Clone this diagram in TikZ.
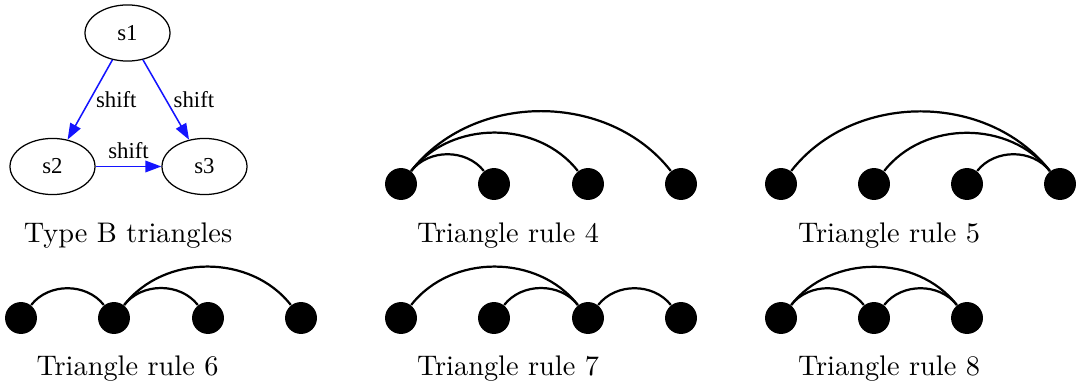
\documentclass[tikz,border=0pt]{standalone}
\usepackage{fontspec}
\newfontfamily\gvfont{Liberation Serif}
\usetikzlibrary{shapes.geometric,arrows.meta}
\definecolor{gvblue}{RGB}{20,20,255}
\begin{document}
\begin{tikzpicture}[x=0.36pt,y=-0.36pt,
  state/.style={ellipse,draw,line width=0.45pt,minimum width=30.6pt,minimum height=20.2pt,
    inner sep=0pt,font=\gvfont\fontsize{8.2}{9.8}\selectfont},
  shiftedge/.style={draw=gvblue,line width=0.55pt,
    -{Triangle[length=5.8pt,width=4.2pt,fill=gvblue]}},
  elabel/.style={font=\gvfont\fontsize{8.2}{9.8}\selectfont,inner sep=1.5pt},
  dot/.style={circle,fill=black,minimum size=11.5pt,inner sep=0pt},
  link/.style={line width=0.8pt,bend left=52},
  caption/.style={anchor=base,font=\fontsize{10.2}{12}\selectfont,inner sep=0pt}
]
\useasboundingbox (0,0) rectangle (1076,385);

% shift graph
\node[state] (s1) at (127.5,33) {s1};
\node[state] (s2) at (52.5,166.5) {s2};
\node[state] (s3) at (204.5,166.5) {s3};
\draw[shiftedge] (s1) -- node[elabel,anchor=west,xshift=0.4pt] {shift} (s2);
\draw[shiftedge] (s1) -- node[elabel,anchor=west,xshift=1pt] {shift} (s3);
\draw[shiftedge] (s2) -- node[elabel,anchor=base,yshift=3pt] {shift} (s3);
\node[caption] (capB) at (128,242) {Type B triangles};

% rule 4
\foreach \n/\x in {a/401,b/494,c/588,d/681} \node[dot] (r4\n) at (\x,184) {};
\draw[link] (r4a) to (r4b);
\draw[link] (r4a) to (r4c);
\draw[link] (r4a) to (r4d);
\node[caption] (cap4) at (508,242) {Triangle rule 4};

% rule 5
\foreach \n/\x in {a/781,b/874,c/967,d/1060} \node[dot] (r5\n) at (\x,184) {};
\draw[link] (r5a) to (r5d);
\draw[link] (r5b) to (r5d);
\draw[link] (r5c) to (r5d);
\node[caption] (cap5) at (889,242) {Triangle rule 5};

% rule 6
\foreach \n/\x in {a/21,b/114,c/208,d/301} \node[dot] (r6\n) at (\x,318) {};
\draw[link] (r6a) to (r6b);
\draw[link] (r6b) to (r6c);
\draw[link] (r6b) to (r6d);
\node[caption] (cap6) at (127.5,375) {Triangle rule 6};

% rule 7
\foreach \n/\x in {a/401,b/494,c/588,d/681} \node[dot] (r7\n) at (\x,318) {};
\draw[link] (r7a) to (r7c);
\draw[link] (r7b) to (r7c);
\draw[link] (r7c) to (r7d);
\node[caption] (cap7) at (508,375) {Triangle rule 7};

% rule 8
\foreach \n/\x in {a/781,b/874,c/967} \node[dot] (r8\n) at (\x,318) {};
\draw[link] (r8a) to (r8b);
\draw[link] (r8b) to (r8c);
\draw[link] (r8a) to (r8c);
\node[caption] (cap8) at (889,375) {Triangle rule 8};
\end{tikzpicture}
\end{document}
